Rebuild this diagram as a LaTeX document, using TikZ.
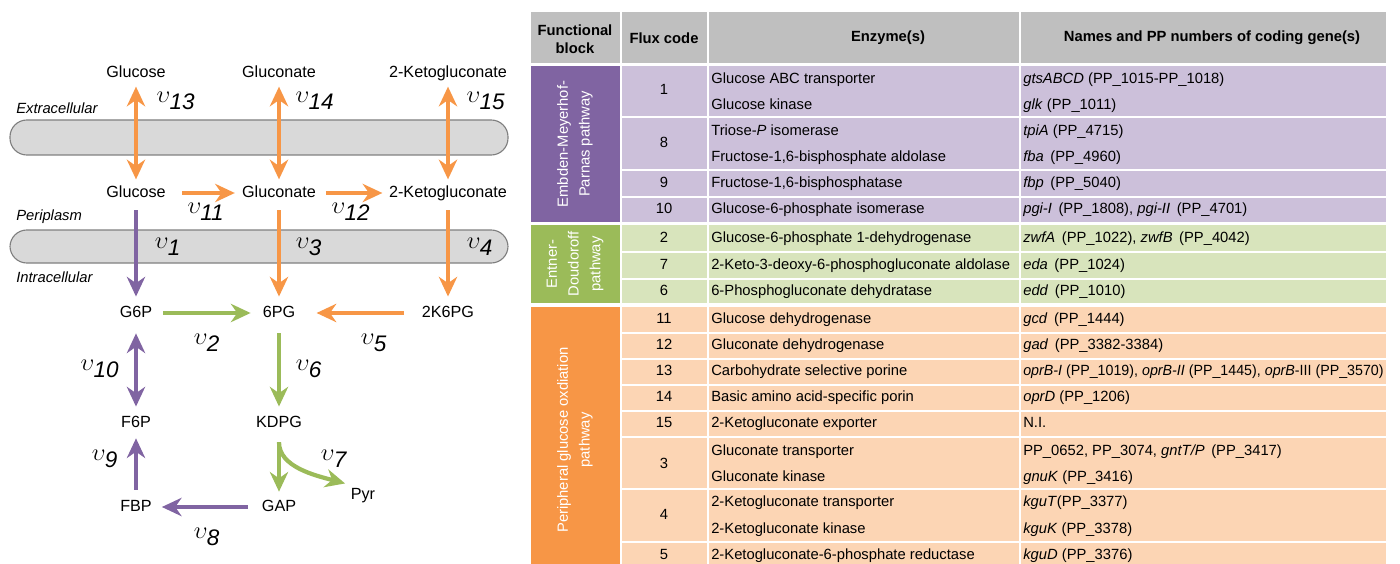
\documentclass[tikz,border=0pt]{standalone}
\usepackage{fontspec}
\setmainfont{Liberation Sans}
\usepackage{graphicx}
\usetikzlibrary{arrows.meta}
\definecolor{orng}{HTML}{F79646}
\definecolor{purp}{HTML}{8064A2}
\definecolor{grn}{HTML}{9BBB59}
\definecolor{purplt}{HTML}{CCC0DA}
\definecolor{grnlt}{HTML}{D8E4BC}
\definecolor{orglt}{HTML}{FCD5B4}
\definecolor{hdrgray}{HTML}{BFBFBF}
\definecolor{membgray}{HTML}{D9D9D9}
\newcommand{\fl}[1]{\(\upsilon_{\mbox{\itshape #1}}\)}
\tikzset{
  met/.style={font=\fontsize{11.5}{13}\selectfont, inner sep=2pt, text height=8.6pt, text depth=2.4pt},
  flux/.style={font=\fontsize{16}{18}\selectfont, inner sep=0pt},
  rxn/.style={line width=3pt, ->, shorten <=4pt, shorten >=4pt},
  memb/.style={fill=membgray, draw=gray, line width=0.8pt, rounded corners=0.42cm},
  comp/.style={font=\fontsize{10.5}{12}\selectfont\itshape, anchor=west, inner sep=0pt},
  tab/.style={font=\fontsize{10.5}{12}\selectfont, inner sep=0pt, text height=7.6pt, text depth=2.2pt},
  head/.style={font=\fontsize{10.5}{13}\selectfont\bfseries, inner sep=0pt, align=center},
  gene/.style={tab, anchor=west},
  blk/.style={font=\fontsize{10.5}{15.5}\selectfont, text=white, rotate=90, align=center, inner sep=0pt},
}

\begin{document}
\begin{tikzpicture}[line cap=butt,line join=round,>={Stealth[length=14pt,width=13pt,inset=4.5pt]},x=0.025cm,y=-0.025cm]
\useasboundingbox (0,0) rectangle (1400,564);
% membranes
\draw[memb] (10,120) rectangle (508,155);
\draw[memb] (10,230) rectangle (508,263);
\node[comp] (extra) at (16,108) {Extracellular};
\node[comp] (peri) at (16,217) {Periplasm};
\node[comp] (intra) at (16,277) {Intracellular};
% metabolites
\node[met] (glcE) at (136,73) {Glucose};
\node[met] (gnE) at (279,73) {Gluconate};
\node[met] (kgE) at (448,73) {2-Ketogluconate};
\node[met] (glcP) at (136,193) {Glucose};
\node[met] (gnP) at (279,193) {Gluconate};
\node[met] (kgP) at (448,193) {2-Ketogluconate};
\node[met] (g6p) at (136,313) {G6P};
\node[met] (pg6) at (279,313) {6PG};
\node[met] (kg6p) at (448,313) {2K6PG};
\node[met] (f6p) at (136,423) {F6P};
\node[met] (kdpg) at (279,423) {KDPG};
\node[met] (fbp) at (136,507) {FBP};
\node[met] (gap) at (279,507) {GAP};
\node[met] (pyr) at (363,495) {Pyr};
% reactions
\draw[rxn,<->,orng,shorten <=2pt,shorten >=2pt] (glcE) -- (glcP);
\draw[rxn,<->,orng,shorten <=2pt,shorten >=2pt] (gnE) -- (gnP);
\draw[rxn,<->,orng,shorten <=2pt,shorten >=2pt] (kgE) -- (kgP);
\draw[rxn,orng,shorten <=9.7pt,shorten >=3pt] (glcP) -- (gnP);
\draw[rxn,orng,shorten <=5pt,shorten >=2.6pt] (gnP) -- (kgP);
\draw[rxn,purp,shorten <=4.6pt] (glcP) -- (g6p);
\draw[rxn,orng,shorten <=4.6pt] (gnP) -- (pg6);
\draw[rxn,orng,shorten <=4.6pt] (kgP) -- (kg6p);
\draw[rxn,grn,shorten <=5.8pt,shorten >=6.5pt] (g6p) -- (pg6);
\draw[rxn,orng,shorten <=10.5pt,shorten >=13pt] (kg6p) -- (pg6);
\draw[rxn,<->,purp,shorten <=6.8pt,shorten >=4pt] (g6p) -- (f6p);
\draw[rxn,grn,shorten <=6.8pt,shorten >=4pt] (pg6) -- (kdpg);
\draw[rxn,purp,shorten <=4.6pt,shorten >=3.2pt] (fbp) -- (f6p);
\draw[rxn,grn,shorten <=6pt,shorten >=3.2pt] (kdpg) -- (gap);
\draw[rxn,grn,shorten <=6pt,shorten >=2pt] (kdpg.south) to[out=-90,in=165] (pyr.north west);
\draw[rxn,purp,shorten <=7.6pt,shorten >=5pt] (gap) -- (fbp);
% flux labels
\node[flux] (v13) at (176,101) {\fl{13}};
\node[flux] (v14) at (315,101) {\fl{14}};
\node[flux] (v15) at (486,101) {\fl{15}};
\node[flux] (v11) at (206,212) {\fl{11}};
\node[flux] (v12) at (351,212) {\fl{12}};
\node[flux] (v1) at (168,247) {\fl{1}};
\node[flux] (v3) at (309,247) {\fl{3}};
\node[flux] (v4) at (480,247) {\fl{4}};
\node[flux] (v2) at (207,343) {\fl{2}};
\node[flux] (v5) at (374,343) {\fl{5}};
\node[flux] (v10) at (100,369) {\fl{10}};
\node[flux] (v6) at (309,369) {\fl{6}};
\node[flux] (v9) at (105,459) {\fl{9}};
\node[flux] (v7) at (334,459) {\fl{7}};
\node[flux] (v8) at (207,537) {\fl{8}};
% table cells
\foreach \l/\r in {531/620,622/707,709/1019,1021/1386}
  \fill[hdrgray] (\l,12) rectangle (\r,63);
\fill[purp] (531,66) rectangle (620,222);
\fill[grn] (531,225) rectangle (620,303);
\fill[orng] (531,307) rectangle (620,570);
\foreach \l/\r in {622/707,709/1019,1021/1386}{
  \foreach \a/\b in {66/116,118/169,171/196,198/222}
    \fill[purplt] (\l,\a) rectangle (\r,\b);
  \foreach \a/\b in {225/251,253/278,280/303}
    \fill[grnlt] (\l,\a) rectangle (\r,\b);
  \foreach \a/\b in {307/332,334/358,360/384,386/410,412/436,438/488,490/541,543/570}
    \fill[orglt] (\l,\a) rectangle (\r,\b);
}
% header
\node[head] (hblock) at (575,39) {Functional\\block};
\node[head] (hflux) at (664,38) {Flux code};
\node[head] (henz) at (888,38) {Enzyme(s)};
\node[head] (hgene) at (1212,38) {Names and PP numbers of coding gene(s)};
% functional blocks
\node[blk] (emp) at (575,144) {Embden-Meyerhof-\\Parnas pathway};
\node[blk] (ed) at (575,264) {Entner-\\Doudoroff\\pathway};
\node[blk] (pgo) at (575,440) {Peripheral glucose oxdiation\\pathway};
% flux codes
\foreach \c/\y in {1/91,8/144,9/184,10/210,2/239,7/266,6/292,11/320,12/346,13/372,14/398,15/424,3/465,4/516,5/556}
  \node[tab] (f\c) at (664,\y) {\c};
% enzymes
\node[gene] (e1a) at (711,80) {Glucose ABC transporter};
\node[gene] (e1b) at (711,106) {Glucose kinase};
\node[gene] (e8a) at (711,132) {Triose-\textit{P} isomerase};
\node[gene] (e8b) at (711,158) {Fructose-1,6-bisphosphate aldolase};
\node[gene] (e9) at (711,184) {Fructose-1,6-bisphosphatase};
\node[gene] (e10) at (711,210) {Glucose-6-phosphate isomerase};
\node[gene] (e2) at (711,239) {Glucose-6-phosphate 1-dehydrogenase};
\node[gene] (e7) at (711,266) {2-Keto-3-deoxy-6-phosphogluconate aldolase};
\node[gene] (e6) at (711,292) {6-Phosphogluconate dehydratase};
\node[gene] (e11) at (711,320) {Glucose dehydrogenase};
\node[gene] (e12) at (711,346) {Gluconate dehydrogenase};
\node[gene] (e13) at (711,372) {Carbohydrate selective porine};
\node[gene] (e14) at (711,398) {Basic amino acid-specific porin};
\node[gene] (e15) at (711,424) {2-Ketogluconate exporter};
\node[gene] (e3a) at (711,452) {Gluconate transporter};
\node[gene] (e3b) at (711,478) {Gluconate kinase};
\node[gene] (e4a) at (711,503) {2-Ketogluconate transporter};
\node[gene] (e4b) at (711,530) {2-Ketogluconate kinase};
\node[gene] (e5) at (711,556) {2-Ketogluconate-6-phosphate reductase};
% genes
\node[gene] (g1a) at (1023,80) {\textit{gtsABCD} (PP\_1015-PP\_1018)};
\node[gene] (g1b) at (1023,106) {\textit{glk} (PP\_1011)};
\node[gene] (g8a) at (1023,132) {\textit{tpiA} (PP\_4715)};
\node[gene] (g8b) at (1023,158) {\textit{fba}\, (PP\_4960)};
\node[gene] (g9) at (1023,184) {\textit{fbp}\, (PP\_5040)};
\node[gene] (g10) at (1023,210) {\textit{pgi-I}\, (PP\_1808), \textit{pgi-II}\, (PP\_4701)};
\node[gene] (g2) at (1023,239) {\textit{zwfA}\, (PP\_1022), \textit{zwfB}\, (PP\_4042)};
\node[gene] (g7) at (1023,266) {\textit{eda}\, (PP\_1024)};
\node[gene] (g6) at (1023,292) {\textit{edd}\, (PP\_1010)};
\node[gene] (g11) at (1023,320) {\textit{gcd}\, (PP\_1444)};
\node[gene] (g12) at (1023,346) {\textit{gad}\, (PP\_3382-3384)};
\node[gene] (g13) at (1023,372) {\scalebox{0.965}[1]{\textit{oprB-I} (PP\_1019), \textit{oprB-II} (PP\_1445), \textit{oprB}-III (PP\_3570)}};
\node[gene] (g14) at (1023,398) {\textit{oprD} (PP\_1206)};
\node[gene] (g15) at (1023,424) {N.I.};
\node[gene] (g3a) at (1023,452) {PP\_0652, PP\_3074, \textit{gntT/P}\, (PP\_3417)};
\node[gene] (g3b) at (1023,478) {\textit{gnuK} (PP\_3416)};
\node[gene] (g4a) at (1023,503) {\textit{kguT}(PP\_3377)};
\node[gene] (g4b) at (1023,530) {\textit{kguK} (PP\_3378)};
\node[gene] (g5) at (1023,556) {\textit{kguD} (PP\_3376)};
\end{tikzpicture}
\end{document}
